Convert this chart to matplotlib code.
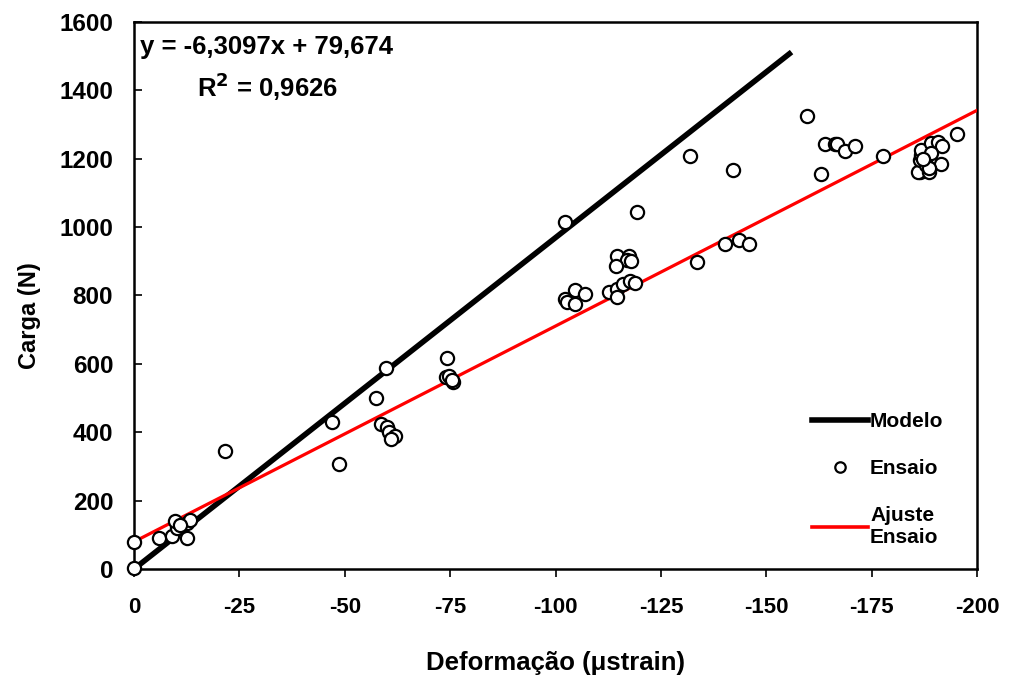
import matplotlib
matplotlib.use("Agg")
import matplotlib.pyplot as plt
from matplotlib.lines import Line2D
import numpy as np

# Measured test points: strain (µstrain) and load (N)
ensaio_x = [0, 0, -6.0, -8.9, -10.1, -12.6, -13.3, -9.7, -12.6, -11.0, -21.7,
            -59.7, -74.3, -74.0, -74.8, -75.8, -75.5, -57.3, -46.9, -58.6, -60.0,
            -60.6, -61.9, -60.9, -48.7,
            -102.3, -119.3, -114.7, -117.5, -117.0, -117.8, -114.3, -104.6, -107.0,
            -102.3, -102.8, -104.6, -112.7, -114.7, -114.7, -116.1, -117.7, -118.9,
            -133.6, -140.3, -143.5, -146.0, -131.9, -142.1,
            -159.7, -163.0, -164.0, -166.4, -166.9, -168.7, -171.1, -177.6, -186.5,
            -185.9, -188.7, -186.5, -186.6, -186.7, -189.0, -190.8, -191.8, -189.0,
            -191.5, -195.2, -188.0, -188.5, -187.3]
ensaio_y = [3, 80, 90, 96, 119, 134, 143, 140, 90, 128, 346,
            589, 616, 562, 564, 548, 553, 499, 429, 423, 416,
            400, 389, 380, 306,
            1014, 1043, 915, 915, 903, 901, 885, 816, 803,
            789, 782, 775, 810, 818, 796, 835, 843, 837,
            898, 950, 962, 950, 1208, 1167,
            1325, 1155, 1242, 1242, 1242, 1223, 1237, 1208, 1162,
            1162, 1162, 1196, 1211, 1225, 1245, 1249, 1237, 1218,
            1184, 1272, 1181, 1172, 1200]

# Model line endpoints
modelo_x = [0, -156]
modelo_y = [0, 1512]

# Linear fit of the test data
slope = -6.3097
intercept = 79.674
fit_x = np.array([0, -200])

x_ticks = [0, -25, -50, -75, -100, -125, -150, -175, -200]
y_ticks = [0, 200, 400, 600, 800, 1000, 1200, 1400, 1600]

plt.rcParams['font.family'] = ['Liberation Sans', 'DejaVu Sans']
plt.rcParams['font.weight'] = 'bold'

fig = plt.figure(figsize=(10.09, 6.83), dpi=100)
ax = fig.add_axes([0.1328, 0.1669, 0.8355, 0.8009])

ax.plot(modelo_x, modelo_y, color='black', lw=4.0, solid_capstyle='butt', zorder=2)
ax.plot(fit_x, slope * fit_x + intercept, color='#ff0000', lw=2.3, zorder=3)
ax.plot(ensaio_x, ensaio_y, 'o', ms=9.5, mfc='white', mec='black', mew=1.6,
        ls='none', zorder=4, clip_on=False)

ax.set_xlim(0, -200)
ax.set_ylim(0, 1600)
ax.set_xticks(x_ticks)
ax.set_yticks(y_ticks)
ax.set_xticklabels([str(t) for t in x_ticks], fontsize=16, fontweight='bold')
ax.set_yticklabels([str(t) for t in y_ticks], fontsize=17.5, fontweight='bold')
ax.tick_params(axis='x', direction='out', length=6, width=1.2, pad=14)
ax.tick_params(axis='y', direction='in', length=6, width=1.2, pad=15)
for s in ax.spines.values():
    s.set_linewidth(1.8)

ax.set_xlabel('Deformação (μstrain)', fontsize=18.5, fontweight='bold', labelpad=24)
ax.set_ylabel('Carga (N)', fontsize=17, fontweight='bold')
ax.yaxis.set_label_coords(-0.110, 0.464)

ax.text(-1.5, 1526, 'y = -6,3097x + 79,674', fontsize=18.5, fontweight='bold',
        ha='left', va='center')
ax.text(-31.8, 1412, 'R$^{\\mathbf{2}}$ = 0,9626', fontsize=18.5, fontweight='bold',
        ha='center', va='center')

handles = [
    Line2D([], [], color='black', lw=4.0),
    Line2D([], [], marker='o', ls='none', ms=7.5, mfc='white', mec='black', mew=1.6),
    Line2D([], [], color='#ff0000', lw=2.6),
]
leg = ax.legend(handles, ['Modelo', 'Ensaio', 'Ajuste\nEnsaio'], frameon=False,
                loc='upper left', bbox_to_anchor=(0.804, 0.287), borderaxespad=0,
                borderpad=0, handlelength=2.7, handletextpad=0.1, labelspacing=1.35,
                prop={'weight': 'bold', 'size': 15})

fig.savefig('out.png', dpi=100, facecolor='white')
